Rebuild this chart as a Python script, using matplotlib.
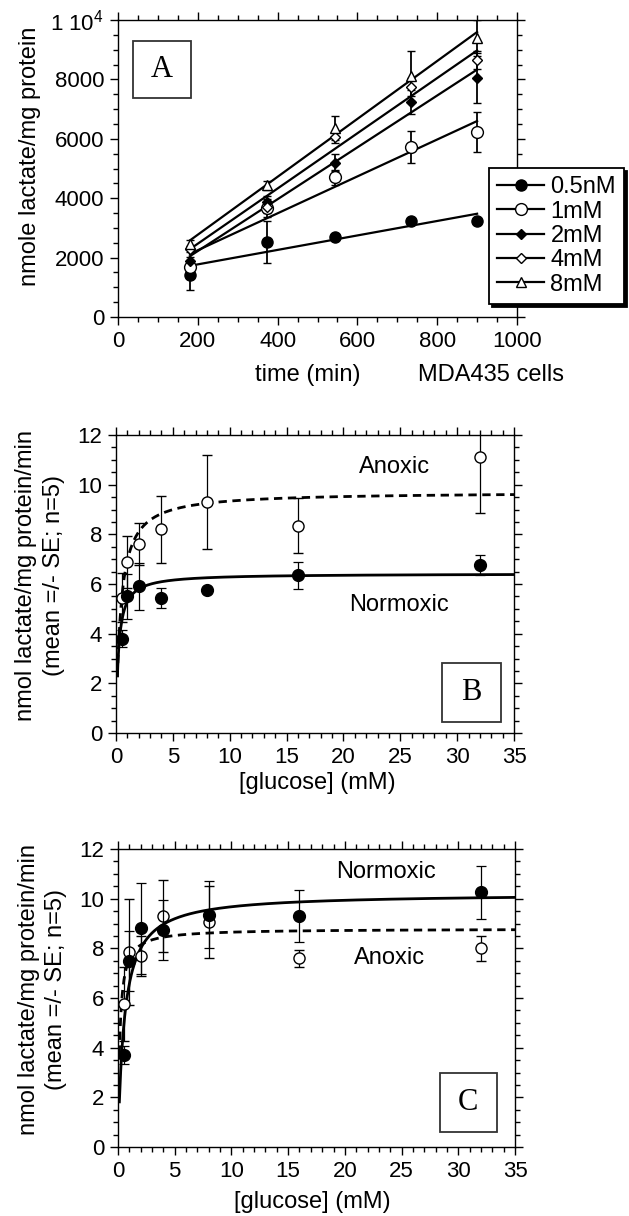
import numpy as np
import matplotlib
matplotlib.use('Agg')
import matplotlib.pyplot as plt
from matplotlib.lines import Line2D
from matplotlib.ticker import MultipleLocator, FuncFormatter

plt.rcParams['font.family'] = ['Liberation Sans', 'DejaVu Sans']
plt.rcParams['mathtext.fontset'] = 'custom'
plt.rcParams['mathtext.rm'] = 'Liberation Sans'
plt.rcParams['font.size'] = 16

# ---- panel A: lactate vs time for several glucose levels
time_min = [180, 373, 545, 735, 900]
conc_labels = ['0.5nM', '1mM', '2mM', '4mM', '8mM']
lac_05 = [1410, 2520, 2690, 3230, 3230]
lac_1 = [1680, 3670, 4710, 5720, 6230]
lac_2 = [1880, 3870, 5200, 7240, 8040]
lac_4 = [2300, 3700, 6060, 7740, 8650]
lac_8 = [2450, 4440, 6360, 8110, 9390]
err_05 = [500, 700, 100, 100, 100]
err_1 = [150, 300, 250, 540, 670]
err_2 = [150, 200, 300, 400, 850]
err_4 = [100, 200, 200, 300, 300]
err_8 = [150, 150, 400, 850, 600]

# ---- panels B and C: rate vs glucose
glucose = [0.5, 1, 2, 4, 8, 16, 32]
b_norm = [3.8, 5.5, 5.9, 5.45, 5.75, 6.35, 6.75]
b_norm_err = [0.35, 0.9, 0.95, 0.4, 0.1, 0.55, 0.4]
b_anox = [5.45, 6.9, 7.6, 8.2, 9.3, 8.35, 11.1]
b_anox_err = [1.0, 1.05, 0.85, 1.35, 1.9, 1.1, 2.25]
c_norm = [3.7, 7.5, 8.8, 8.75, 9.35, 9.3, 10.25]
c_norm_err = [0.35, 1.2, 1.85, 1.2, 1.35, 1.05, 1.05]
c_anox = [5.75, 7.85, 7.7, 9.3, 9.07, 7.6, 8.0]
c_anox_err = [1.5, 2.15, 0.8, 1.45, 1.45, 0.35, 0.5]

# Michaelis-Menten fit parameters (Vmax, Km)
b_norm_fit = (6.42, 0.215)
b_anox_fit = (9.71, 0.397)
c_norm_fit = (10.21, 0.554)
c_anox_fit = (8.79, 0.161)

W, H = 629, 1216
LBL = 17
fig = plt.figure(figsize=(W / 100, H / 100), dpi=100)


def px_axes(l, t, r, b):
    return fig.add_axes([l / W, 1 - b / H, (r - l) / W, (b - t) / H])


def style_axes(ax):
    for s in ax.spines.values():
        s.set_linewidth(1.0)
    ax.tick_params(which='both', direction='out', top=True, right=True,
                   labelsize=16, width=1.0, pad=4)
    ax.tick_params(which='major', length=6)
    ax.tick_params(which='minor', length=3.5)


def letter_box(ax, txt, x0, y0, x1, y1):
    ax.add_patch(plt.Rectangle((x0, y0), x1 - x0, y1 - y0, transform=ax.transAxes,
                               fill=False, ec='#333333', lw=1.3, zorder=6))
    ax.text((x0 + x1) / 2, (y0 + y1) / 2, txt, transform=ax.transAxes,
            ha='center', va='center', fontsize=22, family='Liberation Serif', zorder=6)


# ================= A
axA = px_axes(118, 20, 517, 317)
style_axes(axA)
series = [
    (lac_05, err_05, 'o', 'black', 8),
    (lac_1, err_1, 'o', 'white', 8.5),
    (lac_2, err_2, 'D', 'black', 5),
    (lac_4, err_4, 'D', 'white', 5.5),
    (lac_8, err_8, '^', 'white', 7),
]
t = np.array(time_min)
handles = []
for (y, e, m, fc, ms), lab in zip(series, conc_labels):
    k, c0 = np.polyfit(t, y, 1)
    axA.plot([t[0], t[-1]], [k * t[0] + c0, k * t[-1] + c0], color='black', lw=1.6, zorder=3)
    axA.errorbar(t, y, yerr=e, fmt=m, ms=ms, mfc=fc, mec='black', mew=1.0,
                 ecolor='black', elinewidth=1.3, capsize=3, capthick=1.3, zorder=4)
    handles.append(Line2D([], [], color='black', lw=1.6, marker=m, ms=ms, mfc=fc,
                          mec='black', mew=1.0))
axA.set_xlim(0, 1000)
axA.set_ylim(0, 10000)
axA.xaxis.set_major_locator(MultipleLocator(200))
axA.xaxis.set_minor_locator(MultipleLocator(50))
axA.yaxis.set_major_locator(MultipleLocator(2000))
axA.yaxis.set_minor_locator(MultipleLocator(500))
axA.yaxis.set_major_formatter(FuncFormatter(
    lambda v, p: '1 10$^{4}$' if v >= 10000 else '%d' % v))
axA.set_ylabel('nmole lactate/mg protein', fontsize=LBL, va='center')
axA.yaxis.set_label_coords((30 - 118) / 399, 0.54)
letter_box(axA, 'A', 0.038, 0.737, 0.183, 0.929)
fig.text(308 / W, 1 - 375 / H, 'time (min)', ha='center', va='center', fontsize=LBL)
fig.text(491 / W, 1 - 375 / H, 'MDA435 cells', ha='center', va='center', fontsize=LBL)
leg = axA.legend(handles, conc_labels, loc='upper left',
                 bbox_to_anchor=(489 / W, 1 - 168 / H), bbox_transform=fig.transFigure,
                 borderaxespad=0, fancybox=False, edgecolor='black', framealpha=1,
                 shadow={'color': 'black', 'alpha': 1}, fontsize=LBL, handlelength=2.0,
                 handletextpad=0.25, labelspacing=0.1, borderpad=0.35)
leg.get_frame().set_linewidth(1.3)
leg.set_zorder(10)


def mm_curve(ax, fit, ls):
    vmax, km = fit
    s = np.linspace(0.12, 35, 600)
    ax.plot(s, vmax * s / (km + s), color='black', lw=2.0, ls=ls, zorder=3)


def rate_panel(ax, norm, norm_err, anox, anox_err, nfit, afit, xl_x, xl_y):
    style_axes(ax)
    mm_curve(ax, nfit, '-')
    mm_curve(ax, afit, (0, (3, 2)))
    ax.errorbar(glucose, anox, yerr=anox_err, fmt='o', ms=8, mfc='white', mec='black',
                mew=1.0, ecolor='black', elinewidth=0.9, capsize=3.5, capthick=0.9, zorder=4)
    ax.errorbar(glucose, norm, yerr=norm_err, fmt='o', ms=8.5, mfc='black', mec='black',
                ecolor='black', elinewidth=0.9, capsize=3.5, capthick=0.9, zorder=5)
    ax.set_xlim(0, 35)
    ax.set_ylim(0, 12)
    ax.xaxis.set_major_locator(MultipleLocator(5))
    ax.xaxis.set_minor_locator(MultipleLocator(1))
    ax.yaxis.set_major_locator(MultipleLocator(2))
    ax.yaxis.set_minor_locator(MultipleLocator(0.5))
    ax.set_ylabel('nmol lactate/mg protein/min\n(mean =/- SE; n=5)', fontsize=LBL,
                  linespacing=1.3, va='center')
    ax.yaxis.set_label_coords(-0.191, 0.53)
    ax.set_xlabel('[glucose] (mM)', fontsize=LBL, va='center')
    ax.xaxis.set_label_coords(xl_x, xl_y)


# ================= B
axB = px_axes(116, 435, 514, 733)
rate_panel(axB, b_norm, b_norm_err, b_anox, b_anox_err, b_norm_fit, b_anox_fit, 0.507, -0.168)
axB.text(24.5, 10.7, 'Anoxic', ha='center', va='center', fontsize=LBL)
axB.text(24.9, 5.15, 'Normoxic', ha='center', va='center', fontsize=LBL)
letter_box(axB, 'B', 0.82, 0.037, 0.967, 0.235)

# ================= C
axC = px_axes(118, 849, 515, 1147)
rate_panel(axC, c_norm, c_norm_err, c_anox, c_anox_err, c_norm_fit, c_anox_fit, 0.49, -0.185)
axC.text(23.6, 11.07, 'Normoxic', ha='center', va='center', fontsize=LBL)
axC.text(23.9, 7.6, 'Anoxic', ha='center', va='center', fontsize=LBL)
letter_box(axC, 'C', 0.81, 0.05, 0.955, 0.25)

fig.savefig('out.png', dpi=100)
